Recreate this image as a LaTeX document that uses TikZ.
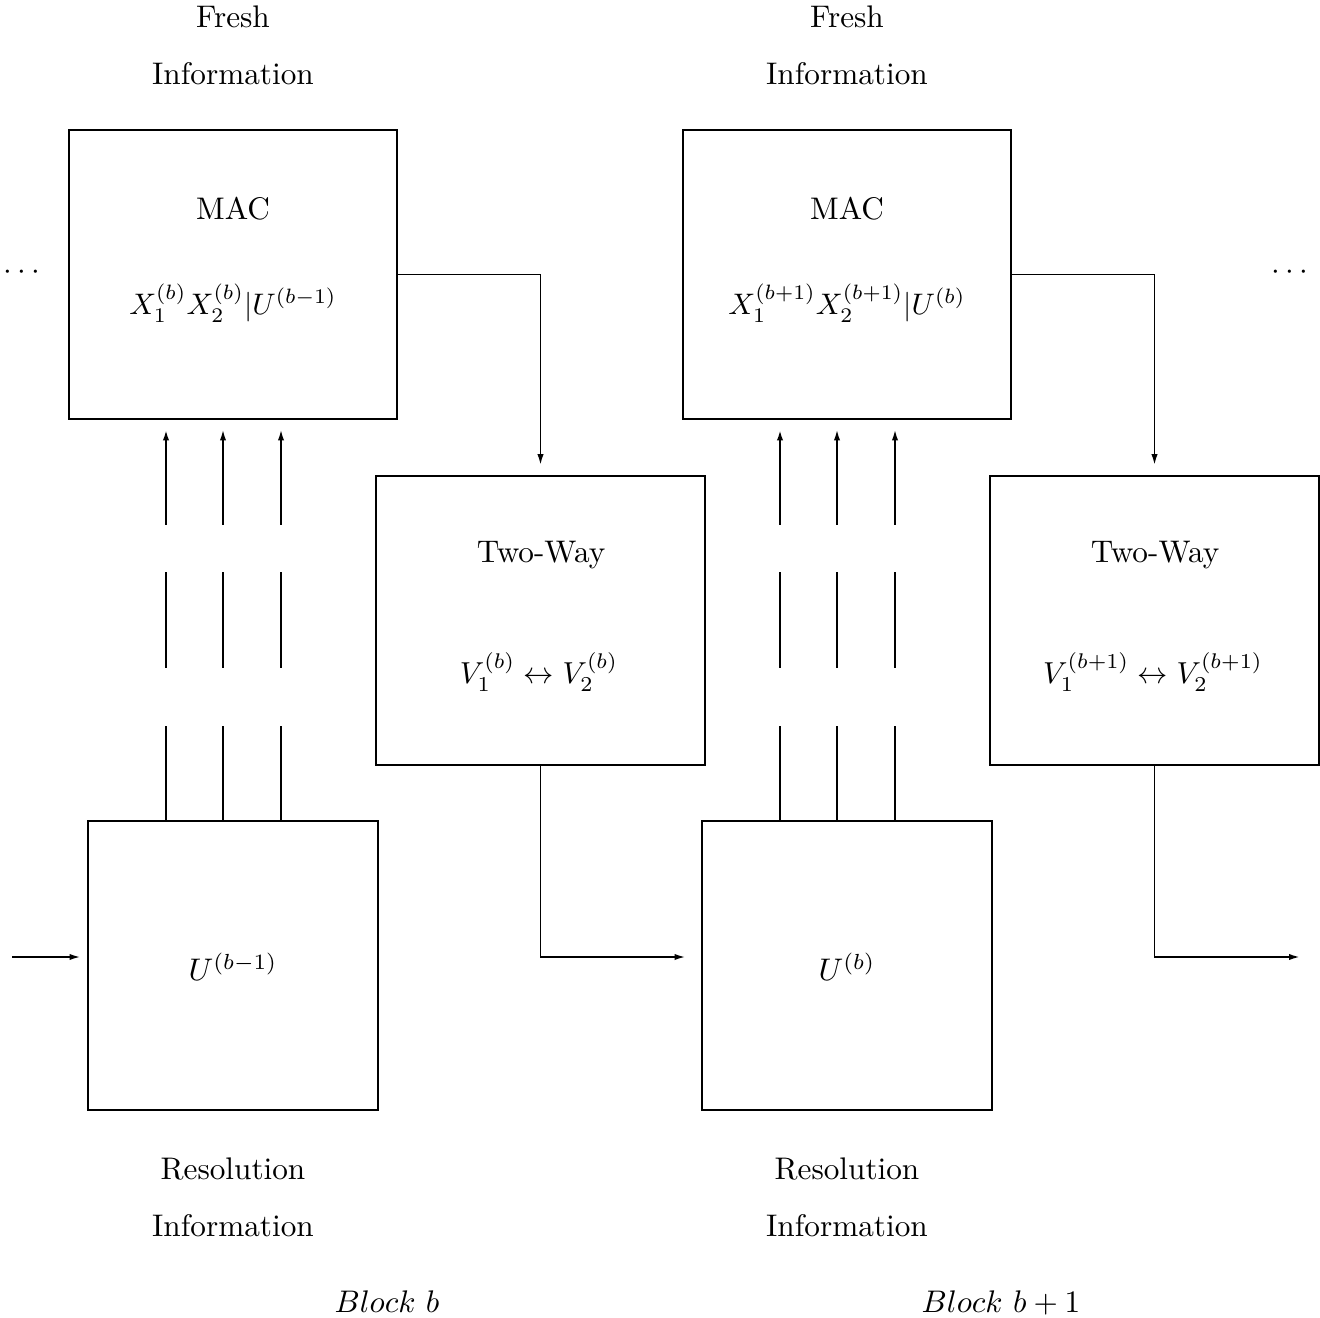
\documentclass[tikz,border=0pt]{standalone}
\usetikzlibrary{arrows.meta,calc}
\begin{document}
\begin{tikzpicture}[x=0.32pt,y=-0.32pt,
  box/.style={draw,line width=0.92pt,inner sep=0pt},
  macbox/.style={box,minimum width=104.96pt,minimum height=92.48pt},
  twbox/.style={box,minimum width=105.28pt,minimum height=92.48pt},
  ubox/.style={box,minimum width=92.8pt,minimum height=92.48pt},
  lbl/.style={inner sep=0pt,anchor=base},
  arr/.style={line width=0.6pt,-{Latex[length=3.5pt,width=2pt]}},
  ln/.style={line width=0.6pt},
  thk/.style={line width=0.95pt}]
\useasboundingbox (0,0) rectangle (1320,1318);
\foreach \o/\s/\bm/\bp/\u/\blk [count=\i] in {0/(b)/(b-1)/(b)/{U^{(b-1)}}/{b},614/(b+1)/(b)/(b+1)/{U^{(b)}}/{b+1}}{
  \begin{scope}[shift={(\o,0)}]
  \node[macbox] (mac\i) at (233,274.5) {};
  \node[twbox] (tw\i) at (540.5,620.5) {};
  \node[ubox] (u\i) at (233,965.5) {};
  \node[lbl] (fr\i) at (233,28) {Fresh};
  \node[lbl] (fi\i) at (233,85) {Information};
  \node[lbl] (mt\i) at (233,220) {MAC};
  \node[anchor=center,inner sep=0pt,scale=0.95] (mf\i) at (233,303) {$X_1^{\s}X_2^{\s}|U^{\bm}$};
  \node[lbl] (tt\i) at (541,563) {Two-Way};
  \node[anchor=center,inner sep=0pt,scale=0.97] (tf\i) at (539,672) {$V_1^{\bp}\leftrightarrow V_2^{\bp}$};
  \node[anchor=center,inner sep=0pt] (uf\i) at (233,967) {$\u$};
  \node[lbl] (rr\i) at (233,1179) {Resolution};
  \node[lbl] (ri\i) at (233,1236) {Information};
  \node[lbl] (bl\i) at (387,1312) {$Block\ \blk$};
  \coordinate (a\i) at (166,0);
  \coordinate (b\i) at (223,0);
  \coordinate (c\i) at (281,0);
  \foreach \p/\st in {a/thk,b/ln,c/ln}{
    \draw[\st] (\p\i |- u\i.north) -- (\p\i |- 0,726);
    \draw[\st] (\p\i |- 0,668) -- (\p\i |- 0,572);
    \draw[\st,-{Latex[length=3.5pt,width=2pt]}] (\p\i |- 0,525) -- ($(\p\i |- mac\i.south)+(0,9)$);
  }
  \draw[arr,shorten >=3pt] (mac\i.east) -| (tw\i.north);
  \end{scope}
}
\node[inner sep=0pt] (dl) at (22,273) {$\cdots$};
\node[inner sep=0pt] (dr) at (1290,273) {$\cdots$};
\coordinate (in) at (12,957);
\coordinate (out) at (1300,957);
\draw[arr] (in) -- ($(u1.west|-in)+(-6,0)$);
\draw[arr] (tw1.south) |- ($(u2.west|-in)+(-15,0)$);
\draw[arr] (tw2.south) |- (out);
\end{tikzpicture}
\end{document}
